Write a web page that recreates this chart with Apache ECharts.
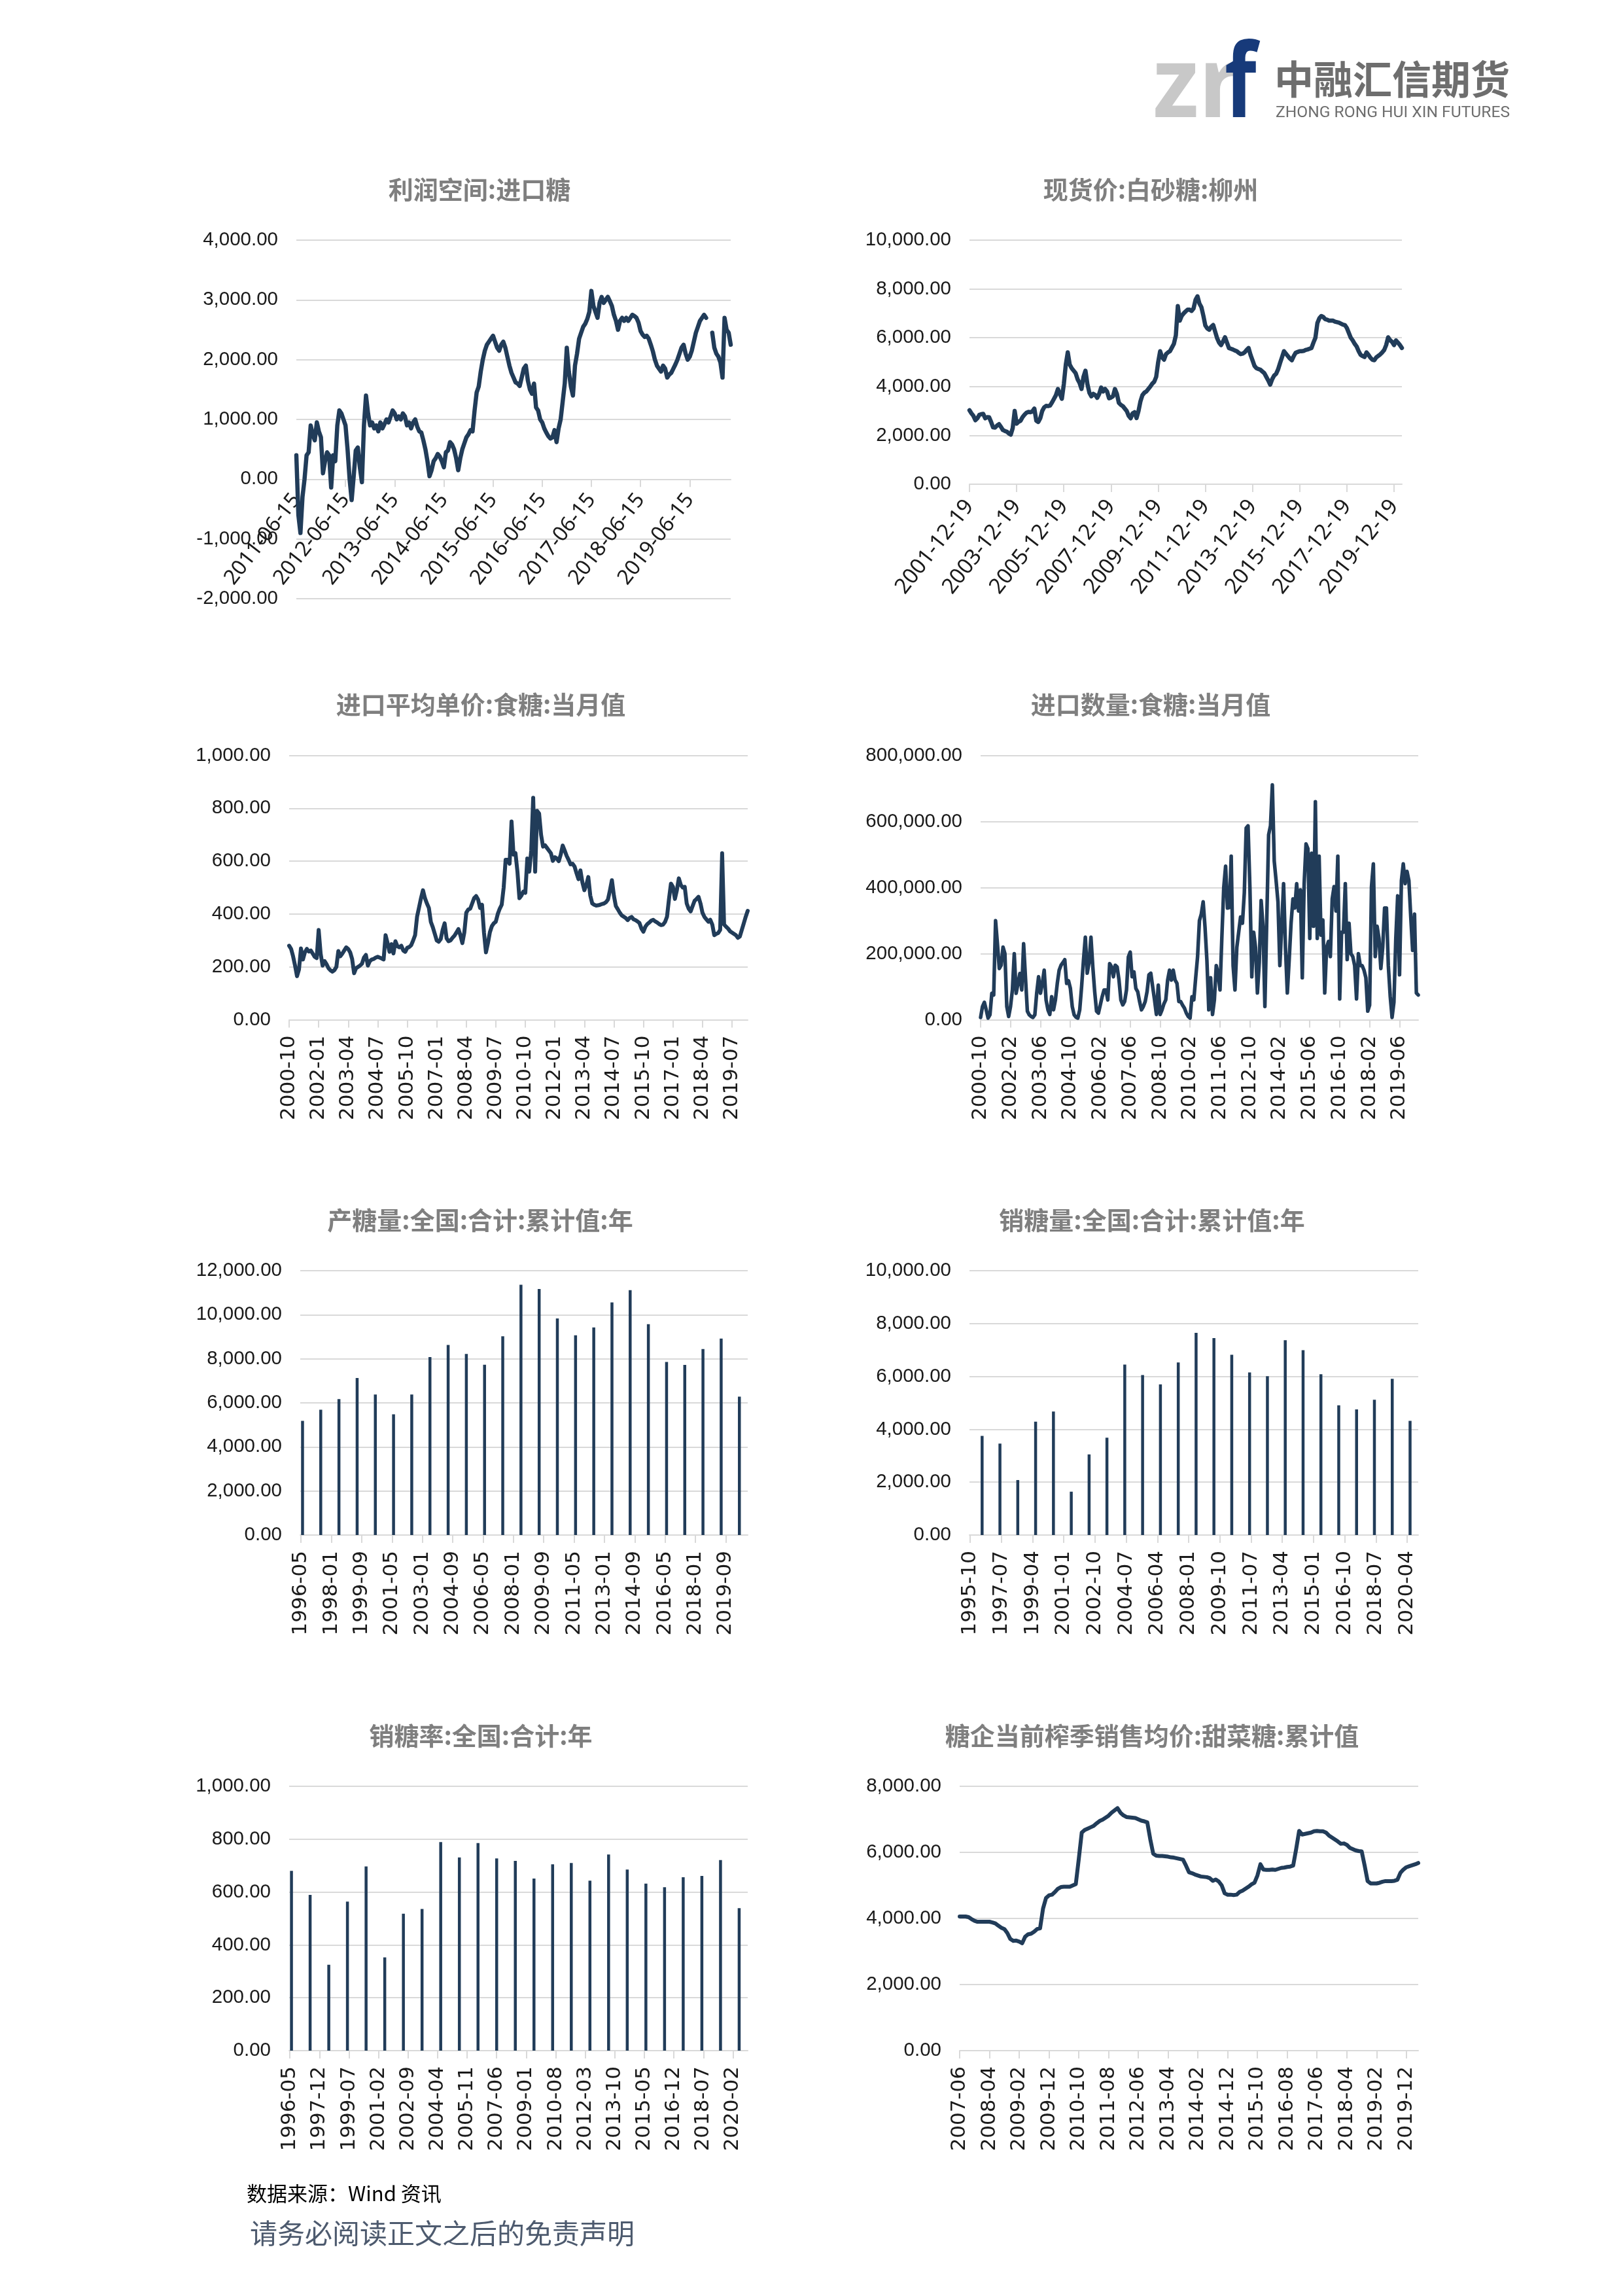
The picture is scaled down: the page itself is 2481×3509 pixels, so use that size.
<!DOCTYPE html>
<html><head><meta charset="utf-8">
<script src="https://cdn.jsdelivr.net/npm/echarts@6/dist/echarts.min.js"></script>
<style>html,body{margin:0;padding:0;background:#fff;} #c{width:2481px;height:3509px;}</style>
</head><body><div id="c"></div>
<script>
// ---------------- data ----------------
const profitTitle = '利润空间:进口糖';
const profitValues = [400,-600,-900,-300,0,400,450,900,750,650,
 950,800,700,100,300,450,400,-140,400,300,
 900,1150,1100,1000,900,500,0,-350,50,480,
 530,200,-50,900,1400,1100,900,950,850,900,
 800,950,850,920,1000,950,1050,1150,1100,1000,
 1050,1000,1100,1050,900,950,850,950,1000,880,
 800,780,650,500,300,50,150,300,350,420,
 380,300,200,450,480,620,580,500,350,150,
 350,500,600,700,750,820,800,1150,1450,1550,
 1800,2000,2150,2250,2300,2350,2400,2300,2200,2150,
 2250,2300,2200,2050,1900,1780,1700,1620,1600,1560,
 1700,1850,1900,1650,1500,1430,1600,1200,1150,1000,
 950,850,780,720,680,700,820,620,850,1000,
 1300,1600,2200,1800,1550,1400,1900,2100,2350,2450,
 2550,2600,2680,2800,3150,2900,2800,2700,2950,3050,
 2950,3000,3050,2980,2900,2750,2650,2500,2650,2700,
 2650,2700,2650,2700,2750,2730,2700,2620,2480,2420,
 2380,2400,2350,2250,2140,2000,1900,1850,1800,1900,
 1850,1700,1750,1780,1850,1920,2000,2100,2200,2250,
 2100,2000,2050,2150,2300,2450,2550,2650,2700,2750,
 2700,null,null,2450,2200,2100,2050,1950,1700,2700,
 2500,2450,2250];

const spotTitle = '现货价:白砂糖:柳州';
const spotValues = [3030,2900,2800,2620,2700,2840,2870,2880,2700,2750,
 2740,2550,2330,2320,2400,2460,2350,2220,2180,2150,
 2080,2030,2300,3000,2480,2560,2600,2750,2850,2930,
 2960,2950,2980,3100,2600,2550,2700,3000,3150,3210,
 3200,3220,3350,3500,3650,3900,3700,3500,4100,4900,
 5400,4900,4750,4650,4550,4300,4150,3900,4400,4650,
 4100,3750,3600,3700,3650,3540,3700,3960,3800,3900,
 3800,3520,3550,3600,3900,3700,3330,3250,3200,3100,
 3000,2800,2700,2900,2950,2710,3000,3400,3650,3750,
 3800,3900,4000,4120,4200,4400,5000,5450,5200,5100,
 5330,5400,5450,5600,5750,6100,7300,6700,6900,7000,
 7080,7150,7150,7100,7200,7550,7700,7400,7250,6900,
 6500,6380,6330,6450,6520,6250,5980,5800,5700,5850,
 6020,5800,5580,5550,5520,5480,5450,5380,5330,5350,
 5400,5500,5580,5300,5080,4850,4750,4720,4690,4620,
 4550,4400,4250,4080,4300,4450,4520,4700,4960,5200,
 5450,5350,5250,5150,5080,5250,5390,5420,5450,5450,
 5460,5500,5520,5550,5580,5800,6000,6600,6800,6890,
 6850,6760,6740,6700,6700,6700,6660,6640,6620,6580,
 6540,6520,6400,6200,6000,5890,5750,5640,5450,5300,
 5250,5210,5400,5300,5180,5100,5080,5200,5260,5320,
 5400,5500,5700,6020,5900,5830,5700,5890,5800,5700,
 5580];

const priceTitle = '进口平均单价:食糖:当月值';
const priceValues = [280,268,240,205,165,190,270,228,255,268,
 258,262,250,238,233,340,250,205,222,210,
 195,187,182,188,200,260,240,250,262,274,
 268,255,230,176,195,200,205,212,235,245,
 205,222,228,230,235,238,235,232,228,320,
 290,257,286,251,297,278,274,280,262,257,
 272,275,282,300,320,390,425,460,490,460,
 440,423,370,350,325,300,295,305,340,365,
 308,297,300,310,318,330,343,320,290,330,
 405,417,420,440,460,468,455,423,435,330,
 255,290,331,354,365,371,400,420,435,500,
 605,605,590,750,625,630,560,460,470,485,
 480,610,560,640,840,560,790,780,700,655,
 660,650,640,630,601,615,610,600,625,659,
 640,620,605,588,590,580,555,532,565,520,
 490,510,540,470,440,435,432,433,435,438,
 440,445,455,490,528,470,430,418,405,395,
 390,385,377,385,389,380,377,372,366,345,
 333,352,362,368,375,378,372,368,362,358,
 360,370,390,457,515,503,457,490,535,510,
 500,503,440,420,410,430,450,457,465,440,
 405,389,380,371,378,360,320,325,328,340,
 630,360,352,345,335,330,325,320,310,315,
 340,365,390,412];

const volumeTitle = '进口数量:食糖:当月值';
const volumeValues = [7000,40000,53000,30000,5000,15000,80000,75000,300000,230000,
 155000,165000,220000,200000,40000,10000,40000,90000,200000,80000,
 110000,140000,90000,230000,127000,26000,15000,10000,7000,15000,
 81000,130000,80000,110000,150000,60000,30000,16000,70000,30000,
 60000,110000,150000,165000,173000,182000,110000,118000,95000,40000,
 15000,8000,5000,30000,100000,180000,250000,141000,173000,250000,
 160000,85000,26000,20000,45000,70000,90000,90000,60000,170000,
 160000,130000,165000,160000,120000,60000,45000,55000,90000,190000,
 205000,130000,145000,95000,85000,55000,30000,40000,55000,85000,
 136000,141000,100000,60000,16000,105000,16000,30000,48000,60000,
 120000,150000,120000,150000,120000,110000,55000,55000,44000,35000,
 20000,10000,5000,70000,60000,127000,190000,300000,320000,357000,
 280000,180000,30000,127000,16000,60000,164000,140000,90000,250000,
 400000,465000,338000,340000,495000,164000,90000,219000,265000,311000,
 292000,384000,580000,587000,400000,130000,265000,219000,81000,173000,
 361000,283000,40000,300000,560000,587000,711000,480000,421000,357000,
 164000,283000,412000,219000,81000,182000,292000,366000,338000,412000,
 329000,393000,127000,412000,532000,518000,246000,504000,283000,660000,
 246000,495000,256000,302000,81000,219000,237000,191000,366000,403000,
 329000,495000,63000,265000,265000,412000,182000,292000,200000,191000,
 164000,63000,200000,164000,164000,150000,127000,26000,44000,403000,
 472000,191000,283000,246000,155000,219000,338000,338000,164000,72000,
 7000,53000,246000,375000,136000,421000,472000,412000,449000,421000,
 311000,210000,320000,81000,75000];

const prodTitle = '产糖量:全国:合计:累计值:年';
const prodValues = [5180,5690,6170,7130,6380,5480,6380,8080,8630,8220,7730,9020,11360,11170,9830,9070,9420,10560,11120,9570,7860,7720,8440,8920,6280];

const salesTitle = '销糖量:全国:合计:累计值:年';
const salesValues = [3750,3460,2080,4290,4670,1640,3050,3680,6450,6050,5700,6530,7650,7450,6820,6150,6010,7370,6990,6080,4910,4750,5120,5910,4320];

const rateTitle = '销糖率:全国:合计:年';
const rateValues = [680,589,325,564,697,353,518,536,789,731,785,727,718,651,705,710,643,742,685,632,618,656,661,721,539];

const beetTitle = '糖企当前榨季销售均价:甜菜糖:累计值';
const beetValues = [4060,4060,4060,4040,3980,3930,3900,3900,3900,3900,
 3900,3880,3850,3780,3720,3680,3560,3380,3320,3330,
 3300,3250,3450,3520,3540,3600,3680,3700,4300,4620,
 4700,4720,4800,4900,4950,4960,4960,4960,5000,5040,
 5800,6600,6680,6720,6760,6800,6880,6950,6990,7050,
 7110,7200,7270,7340,7200,7120,7070,7060,7050,7040,
 7000,6960,6940,6910,6400,5960,5900,5890,5890,5880,
 5870,5850,5840,5820,5800,5780,5600,5400,5370,5330,
 5300,5270,5260,5250,5220,5140,5180,5120,5000,4760,
 4720,4720,4710,4720,4800,4840,4900,4960,5030,5080,
 5300,5640,5480,5470,5470,5480,5470,5500,5530,5540,
 5560,5570,5600,6100,6650,6540,6560,6580,6600,6640,
 6650,6640,6640,6600,6510,6450,6390,6330,6260,6270,
 6230,6140,6100,6060,6040,6030,5600,5130,5060,5060,
 5060,5080,5110,5130,5130,5130,5140,5170,5380,5480,
 5550,5580,5610,5640,5680];

// ---------------- categories ----------------
function pad(n){return n<10?'0'+n:''+n;}
function monthCats(y,m,n,day){const out=[];for(let i=0;i<n;i++){const t=(m-1)+i;const yy=y+Math.floor(t/12);const mm=t%12+1;out.push(yy+'-'+pad(mm)+(day?'-'+day:''));}return out;}
function halfMonthCats(y,m,n){const out=[];let yy=y,mm=m,d=15;for(let i=0;i<n;i++){out.push(yy+'-'+pad(mm)+'-'+pad(d));if(d===15){d=1;mm++;if(mm>12){mm=1;yy++;}}else{d=15;}}return out;}
function sparse(n,first,step,vals){const a=new Array(n).fill(null);vals.forEach((v,k)=>{a[first+k*step]=v;});return a;}

const profitCats = halfMonthCats(2011,6,profitValues.length);
const spotCats = monthCats(2001,12,spotValues.length,'19');
const priceCats = monthCats(2000,10,priceValues.length);
const volumeCats = monthCats(2000,10,volumeValues.length);
const prodCats = monthCats(1996,5,295);
const salesCats = monthCats(1995,10,302);
const rateCats = monthCats(1996,5,295);
const beetCats = monthCats(2007,6,beetValues.length);

// ---------------- style ----------------
const NAVY='#213c59';
const GRIDC='#d9d9d9';
const YFONT="'Liberation Sans',Arimo,sans-serif";
const CJK="'Noto Sans CJK SC','Noto Sans',sans-serif";
const fmt = v => Number(v).toLocaleString('en-US',{minimumFractionDigits:2,maximumFractionDigits:2});

const charts = [
 {title:profitTitle, tx:728, ty:285, grid:{left:453,top:367,width:664,height:548}, cats:profitCats, data:profitValues, type:'line', lw:6.5, min:-2000,max:4000,step:1000, interval:23, rotate:52, lfont:"'Noto Sans',sans-serif", lsize:32, lmargin:26, zeroOffset:true},
 {title:spotTitle, tx:1754, ty:285, grid:{left:1482,top:367,width:661,height:373}, cats:spotCats, data:spotValues, type:'line', lw:6.5, min:0,max:10000,step:2000, interval:23, rotate:52, lfont:"'Noto Sans',sans-serif", lsize:33, lmargin:28},
 {title:priceTitle, tx:730, ty:1072, grid:{left:442,top:1154.5,width:701,height:404}, cats:priceCats, data:priceValues, type:'line', lw:6, min:0,max:1000,step:200, interval:14, rotate:90, lfont:"'DejaVu Sans',sans-serif", lsize:31, lmargin:24},
 {title:volumeTitle, tx:1754, ty:1072, grid:{left:1499,top:1154.5,width:669,height:404}, cats:volumeCats, data:volumeValues, type:'line', lw:5.5, min:0,max:800000,step:200000, interval:15, rotate:90, lfont:"'DejaVu Sans',sans-serif", lsize:31, lmargin:24},
 {title:prodTitle, tx:729, ty:1860, grid:{left:459,top:1942,width:684,height:404}, cats:prodCats, data:sparse(prodCats.length,1,12,prodValues), type:'bar', min:0,max:12000,step:2000, interval:19, rotate:90, lfont:"'DejaVu Sans',sans-serif", lsize:31, lmargin:24},
 {title:salesTitle, tx:1756, ty:1860, grid:{left:1482,top:1942,width:686,height:404}, cats:salesCats, data:sparse(salesCats.length,8,12,salesValues), type:'bar', min:0,max:10000,step:2000, interval:20, rotate:90, lfont:"'DejaVu Sans',sans-serif", lsize:31, lmargin:24},
 {title:rateTitle, tx:730, ty:2648, grid:{left:442,top:2730,width:701,height:404}, cats:rateCats, data:sparse(rateCats.length,1,12,rateValues), type:'bar', min:0,max:1000,step:200, interval:18, rotate:90, lfont:"'DejaVu Sans',sans-serif", lsize:31, lmargin:24},
 {title:beetTitle, tx:1756, ty:2648, grid:{left:1467,top:2730,width:701,height:404}, cats:beetCats, data:beetValues, type:'line', lw:6, min:0,max:8000,step:2000, interval:9, rotate:90, lfont:"'DejaVu Sans',sans-serif", lsize:31, lmargin:24}
];

const option = {animation:false, backgroundColor:'#ffffff', title:[], grid:[], xAxis:[], yAxis:[], series:[], graphic:[]};
charts.forEach((c,i)=>{
 option.title.push({text:c.title, left:c.tx, top:c.ty, textAlign:'center', textVerticalAlign:'middle',
   textStyle:{fontFamily:CJK, fontSize:38, fontWeight:'bold', color:'#7f7f7f'}});
 option.grid.push(Object.assign({containLabel:false}, c.grid));
 const isBar = c.type==='bar';
 // axis sits on the zero line of the value axis
 const off = c.zeroOffset ? -(0 - c.min)/(c.max - c.min)*c.grid.height : 0;
 option.xAxis.push({type:'category', gridIndex:i, data:c.cats, boundaryGap:isBar, position:'bottom', offset:off,
   axisLine:{show:true, onZero:false, lineStyle:{color:GRIDC,width:2}},
   axisTick:{show:true, interval:c.interval, alignWithLabel:true, length:12, lineStyle:{color:GRIDC,width:2}},
   axisLabel:{interval:c.interval, rotate:c.rotate, margin:c.lmargin, fontFamily:c.lfont, fontSize:c.lsize, color:'#1a1a1a'},
   splitLine:{show:false}});
 option.yAxis.push({type:'value', gridIndex:i, min:c.min, max:c.max, interval:c.step,
   axisLine:{show:false}, axisTick:{show:false},
   splitLine:{show:true, lineStyle:{color:GRIDC,width:2}},
   axisLabel:{formatter:fmt, fontFamily:YFONT, fontSize:29.5, color:'#1a1a1a', margin:28}});
 if(isBar){
   option.series.push({type:'bar', xAxisIndex:i, yAxisIndex:i, data:c.data, barWidth:4.5, itemStyle:{color:NAVY}});
 } else {
   option.series.push({type:'line', xAxisIndex:i, yAxisIndex:i, data:c.data, symbol:'none', showSymbol:false,
     connectNulls:false, lineStyle:{color:NAVY, width:c.lw, join:'round', cap:'round'}, itemStyle:{color:NAVY}});
 }
});

// logo + footer
option.graphic = [
 {type:'text', x:1762, y:136, scaleX:0.95, style:{text:'zr', fill:'#c8c8c8', font:"bold 151px 'Noto Sans', sans-serif", textAlign:'left', textVerticalAlign:'middle'}},
 {type:'text', x:1872, y:134, scaleX:0.8, style:{text:'f', fill:'#173a7a', font:"bold 157px 'Noto Sans', sans-serif", textAlign:'left', textVerticalAlign:'middle'}},
 {type:'text', x:1948, y:121, style:{text:'中融汇信期货', fill:'#6e6e6e', font:"bold 60px 'Noto Sans CJK SC', sans-serif", textAlign:'left', textVerticalAlign:'middle'}},
 {type:'text', x:1950, y:173, style:{text:'ZHONG RONG HUI XIN FUTURES', fill:'#6e6e6e', font:"24.6px Roboto, sans-serif", textAlign:'left', textVerticalAlign:'middle'}},
 {type:'text', x:377, y:3352, style:{text:'数据来源：Wind 资讯', fill:'#000000', font:"31px 'Noto Sans CJK SC', sans-serif", textAlign:'left', textVerticalAlign:'middle'}},
 {type:'text', x:382, y:3413, style:{text:'请务必阅读正文之后的免责声明', fill:'#4d5a6e', font:"42px 'Noto Sans CJK SC', sans-serif", textAlign:'left', textVerticalAlign:'middle'}}
];

const chart = echarts.init(document.getElementById('c'), null, {renderer:'canvas', width:2481, height:3509});
chart.setOption(option);
</script></body></html>
